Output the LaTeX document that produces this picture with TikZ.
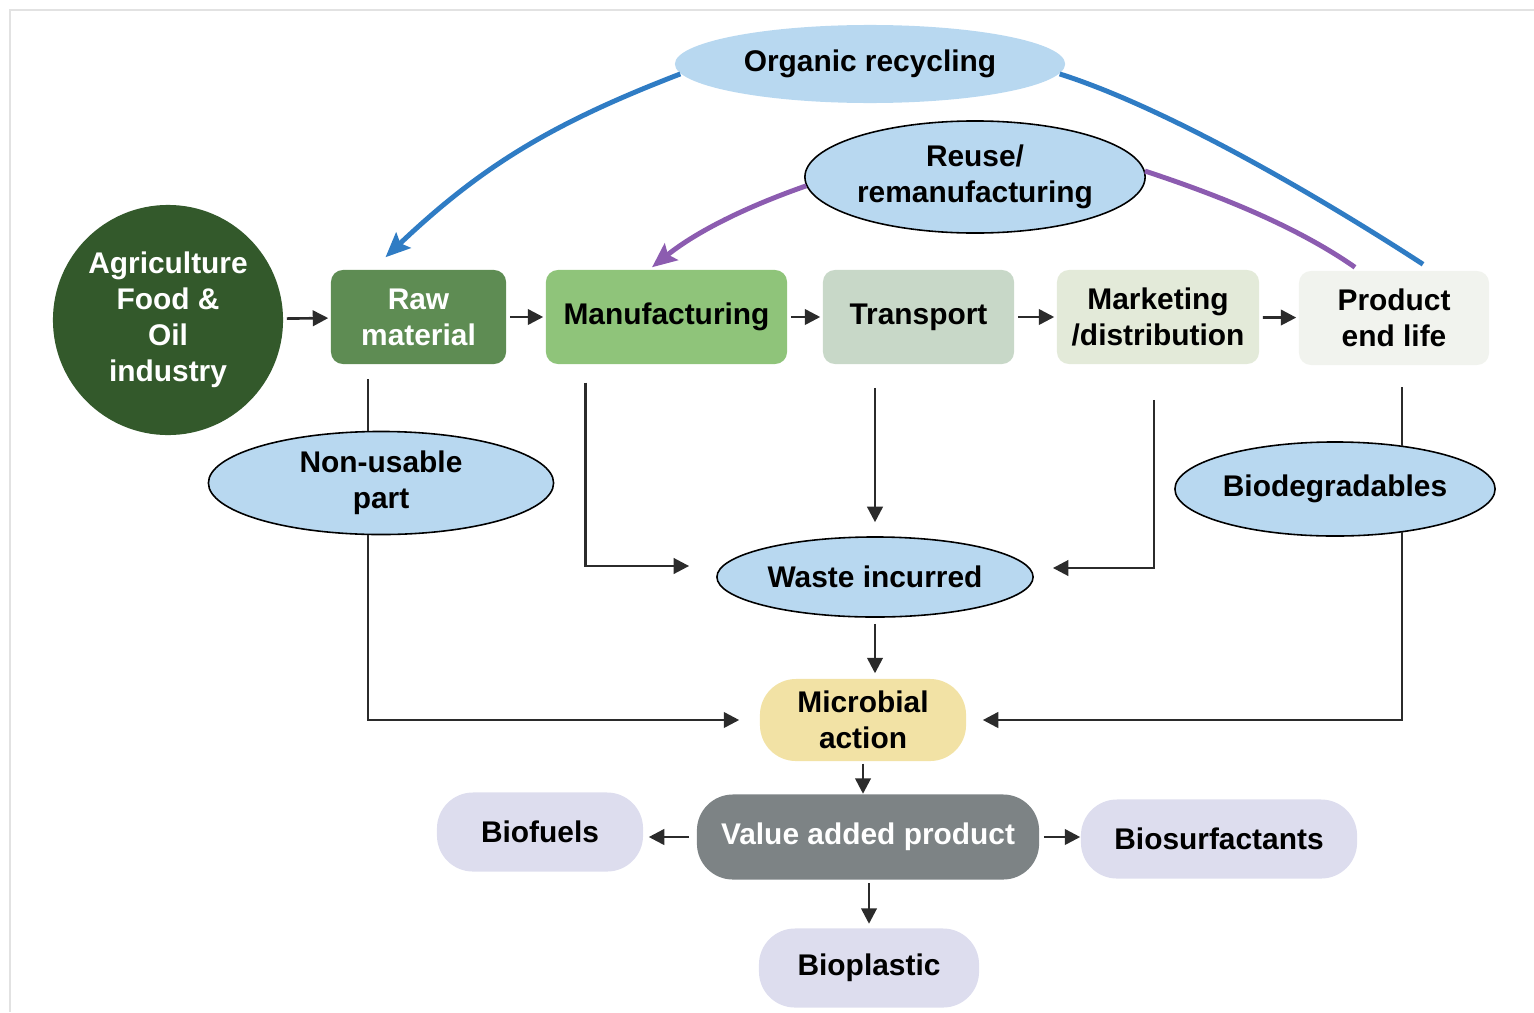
\documentclass[tikz,border=0pt]{standalone}
\usepackage{fontspec}
\setmainfont{Liberation Sans}
\usepackage{tikz}
\usetikzlibrary{arrows.meta,shapes.geometric}
\usepackage{xcolor}
\definecolor{wcagri}{RGB}{51,89,43}
\definecolor{wcraw}{RGB}{94,140,83}
\definecolor{wcmanuf}{RGB}{143,196,122}
\definecolor{wctrans}{RGB}{200,216,200}
\definecolor{wcmarket}{RGB}{227,234,217}
\definecolor{wcend}{RGB}{241,243,238}
\definecolor{wcsky}{RGB}{184,216,240}
\definecolor{wcmicro}{RGB}{242,226,165}
\definecolor{wcvalue}{RGB}{125,131,133}
\definecolor{wclilac}{RGB}{221,221,238}
\definecolor{wcblue}{RGB}{47,124,196}
\definecolor{wcpurple}{RGB}{140,92,176}
\definecolor{wcline}{RGB}{43,43,43}
\definecolor{wcframe}{RGB}{226,226,226}
\tikzstyle{stage} = [rectangle, rounded corners=1.2mm, minimum height=0.94cm, align=center, inner sep=1pt, font=\bfseries\fontsize{8.5pt}{10.2pt}\selectfont]
\tikzstyle{bubble} = [ellipse, draw=black, line width=0.45pt, fill=wcsky, align=center, inner sep=0pt, font=\bfseries\fontsize{8.5pt}{10.2pt}\selectfont]
\tikzstyle{pill} = [rectangle, rounded corners=3.6mm, minimum height=0.79cm, align=center, inner sep=1pt, font=\bfseries\fontsize{8.5pt}{10.2pt}\selectfont]
\tikzstyle{wire} = [line width=0.75pt, color=wcline]
\tikzstyle{arrow} = [line width=0.75pt, color=wcline, -{Triangle[length=4.4pt,width=4.4pt]}]
\tikzstyle{recycle} = [line width=1.4pt, -{Stealth[length=7pt,width=6pt,inset=1.2pt]}]

\begin{document}
\begin{tikzpicture}[x=0.01cm, y=-0.01cm]
\useasboundingbox (0,0) rectangle (1534,1012);
\draw[wcframe, line width=0.6pt] (10,1012) -- (10,10) -- (1534,10);

% Supply chain row
\node[circle, fill=wcagri, text=white, minimum size=2.3cm, align=center, inner sep=0pt, font=\bfseries\fontsize{8.5pt}{10.2pt}\selectfont] (agri) at (168,320) {Agriculture\\Food \&\\Oil\\industry};
\node[stage, fill=wcraw, text=white, minimum width=1.75cm] (raw) at (418.5,317) {Raw\\material};
\node[stage, fill=wcmanuf, minimum width=2.41cm] (manuf) at (666.5,317) {Manufacturing};
\node[stage, fill=wctrans, minimum width=1.91cm] (transport) at (918.5,317) {Transport};
\node[stage, fill=wcmarket, minimum width=2.02cm] (market) at (1158,317) {Marketing\\/distribution};
\node[stage, fill=wcend, minimum width=1.9cm] (endlife) at (1394,318) {Product\\end life};

\draw[arrow, shorten <=0.3mm, shorten >=0.2mm] (agri) -- (raw);
\draw[arrow, shorten <=0.3mm, shorten >=0.2mm] (raw) -- (manuf);
\draw[arrow, shorten <=0.3mm, shorten >=0.2mm] (manuf) -- (transport);
\draw[arrow, shorten <=0.3mm, shorten >=0.2mm] (transport) -- (market);
\draw[arrow, shorten <=0.3mm, shorten >=0.2mm] (market) -- (endlife);

% Loops back into the chain
\node[bubble, draw=none, minimum width=3.9cm, minimum height=0.78cm] (organic) at (870,64) {Organic recycling};
\node[bubble, minimum width=3.4cm, minimum height=1.12cm] (reuse) at (975,177) {Reuse/\\remanufacturing};

\draw[recycle, wcblue] (organic.183) .. controls +(-130,50) and +(95,-90) .. ([xshift=-3.3mm,yshift=1.2mm]raw.north);
\draw[line width=1.4pt, wcblue] (organic.-3) .. controls +(110,35) and +(-100,-65) .. ([xshift=2.9mm,yshift=0.6mm]endlife.north);
\draw[recycle, wcpurple] (reuse.183) .. controls +(-60,21) and +(45,-36) .. ([xshift=-1.45mm,yshift=0.2mm]manuf.north);
\draw[line width=1.4pt, wcpurple] (reuse.2) .. controls +(70,23) and +(-60,-42) .. ([xshift=-3.9mm,yshift=0.3mm]endlife.north);

% Waste streams
\node[bubble, minimum width=3.45cm, minimum height=1.03cm] (nonusable) at (381,483) {Non-usable\\part};
\node[bubble, minimum width=3.16cm, minimum height=0.8cm] (waste) at (875,577) {Waste incurred};
\node[bubble, minimum width=3.2cm, minimum height=0.94cm] (biodeg) at (1335,489) {Biodegradables};
\node[pill, fill=wcmicro, minimum width=2.06cm, minimum height=0.82cm] (microbial) at (863,720) {Microbial\\action};

\draw[wire, shorten >=1.4mm] (nonusable.104) -- (nonusable.104 |- raw.south);
\draw[arrow, shorten >=2mm] (nonusable.256) |- (microbial.west);
\draw[arrow, shorten >=2.7mm] ([xshift=4mm,yshift=-1.8mm]manuf.south west) |- ([yshift=1.1mm]waste.west);
\draw[arrow, shorten <=2.3mm, shorten >=1.4mm] (transport.south -| waste.north) -- (waste.north);
\draw[arrow, shorten <=3.5mm, shorten >=1.9mm] ([xshift=-0.4mm]market.south) |- ([yshift=0.9mm]waste.east);
\draw[arrow, shorten <=0.6mm, shorten >=0.5mm] (waste.south) -- (waste.south |- microbial.north);
\draw[wire, shorten >=2.1mm] (biodeg.33) -- (biodeg.33 |- endlife.south);
\draw[arrow, shorten >=1.6mm] (biodeg.-33) |- (microbial.east);

% Products
\node[pill, fill=wcvalue, text=white, minimum width=3.42cm, minimum height=0.85cm] (value) at (868,837) {Value added product};
\node[pill, fill=wclilac, minimum width=2.06cm] (biofuels) at (540,832) {Biofuels};
\node[pill, fill=wclilac, minimum width=2.76cm] (biosurf) at (1219,839) {Biosurfactants};
\node[pill, fill=wclilac, minimum width=2.2cm] (bioplastic) at (869,968) {Bioplastic};

\draw[arrow, shorten <=0.2mm] (microbial.south) -- (microbial.south |- value.north);
\draw[arrow, shorten <=0.7mm, shorten >=0.5mm] (value.west) -- (value.west -| biofuels.east);
\draw[arrow, shorten <=0.4mm] (value.east) -- (value.east -| biosurf.west);
\draw[arrow, shorten <=0.3mm, shorten >=0.4mm] (value.south -| bioplastic.north) -- (bioplastic.north);
\end{tikzpicture}
\end{document}
